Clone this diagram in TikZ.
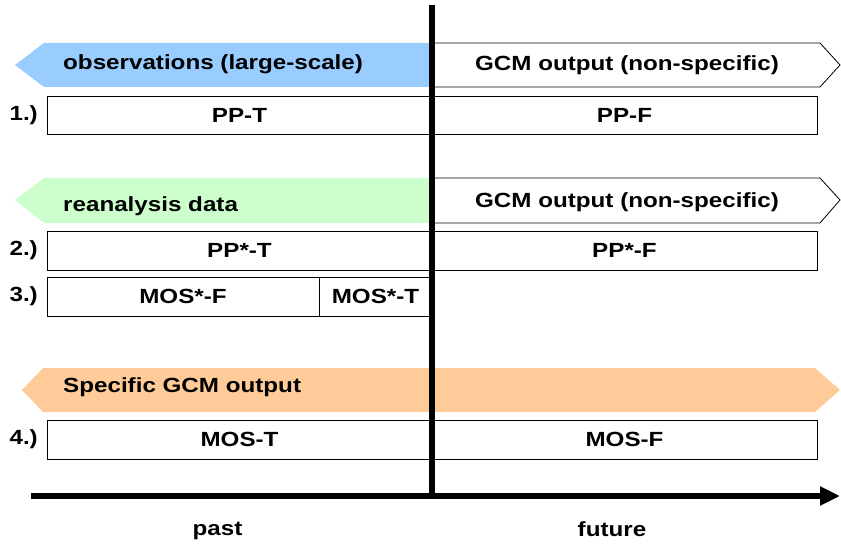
\documentclass[tikz,border=0pt]{standalone}
\usepackage{fontspec}
\setmainfont{Liberation Sans}[FakeStretch=1.18]
\usetikzlibrary{arrows.meta}
\definecolor{obsblue}{RGB}{153,204,255}
\definecolor{reagreen}{RGB}{204,255,204}
\definecolor{gcmorange}{RGB}{255,204,153}
\tikzset{
  lbl/.style={font=\fontsize{20.5}{24}\selectfont\bfseries, inner sep=0pt},
  box/.style={draw=black, line width=0.8pt, fill=white, font=\fontsize{20.5}{24}\selectfont\bfseries, minimum height=38pt, inner sep=0pt},
  gcm/.style={draw=black, line width=0.8pt, fill=white},
}
\begin{document}
\begin{tikzpicture}[x=1pt,y=-1pt]
\useasboundingbox (0,0) rectangle (841,548);
% band 1
\fill[obsblue] (15,65) -- (44,43) -- (432,43) -- (432,87) -- (44,87) -- cycle;
\draw[gcm] (432,43) -- (820,43) -- (840,65) -- (820,87) -- (432,87);
\node[lbl, anchor=west] (obs) at (63,64) {observations (large-scale)};
\node[lbl] (gcm1) at (627,65) {GCM output (non-specific)};
\node[lbl, anchor=east] (n1) at (38,115) {1.)};
\node[box, minimum width=385pt] (ppt) at (239.5,115) {PP-T};
\node[box, minimum width=385pt] (ppf) at (624.5,115) {PP-F};
% band 2
\fill[reagreen] (15,200) -- (44,178) -- (432,178) -- (432,223) -- (44,223) -- cycle;
\draw[gcm] (432,178) -- (820,178) -- (840,200) -- (820,223) -- (432,223);
\node[lbl, anchor=west] (rea) at (63,206) {reanalysis data};
\node[lbl] (gcm2) at (627,202) {GCM output (non-specific)};
\node[lbl, anchor=east] (n2) at (38,250.5) {2.)};
\node[box, minimum width=385pt, minimum height=39pt] (ppst) at (239.5,250.5) {PP*-T};
\node[box, minimum width=385pt, minimum height=39pt] (ppsf) at (624.5,250.5) {PP*-F};
\node[lbl, anchor=east] (n3) at (38,296.5) {3.)};
\node[box, minimum width=272pt, minimum height=39pt] (mossf) at (183,296.5) {MOS*-F};
\node[box, minimum width=113pt, minimum height=39pt] (mosst) at (375.5,296.5) {MOS*-T};
% band 3
\fill[gcmorange] (22,390) -- (43,368) -- (815,368) -- (840,390) -- (815,412) -- (43,412) -- cycle;
\node[lbl, anchor=west] (spec) at (63,387) {Specific GCM output};
\node[lbl, anchor=east] (n4) at (38,439.5) {4.)};
\node[box, minimum width=385pt, minimum height=39pt] (most) at (239.5,439.5) {MOS-T};
\node[box, minimum width=385pt, minimum height=39pt] (mosf) at (624.5,439.5) {MOS-F};
% axes
\coordinate (vtop) at (432,5);
\coordinate (vbot) at (432,496);
\coordinate (hl) at (31,496);
\coordinate (hr) at (840,496);
\draw[line width=5.5pt] (vtop) -- (vbot);
\draw[line width=6pt, -{Triangle[length=20pt,width=18pt]}] (hl) -- (hr);
\node[lbl] (past) at (217.5,531) {past};
\node[lbl] (future) at (612,529) {future};
\end{tikzpicture}
\end{document}
